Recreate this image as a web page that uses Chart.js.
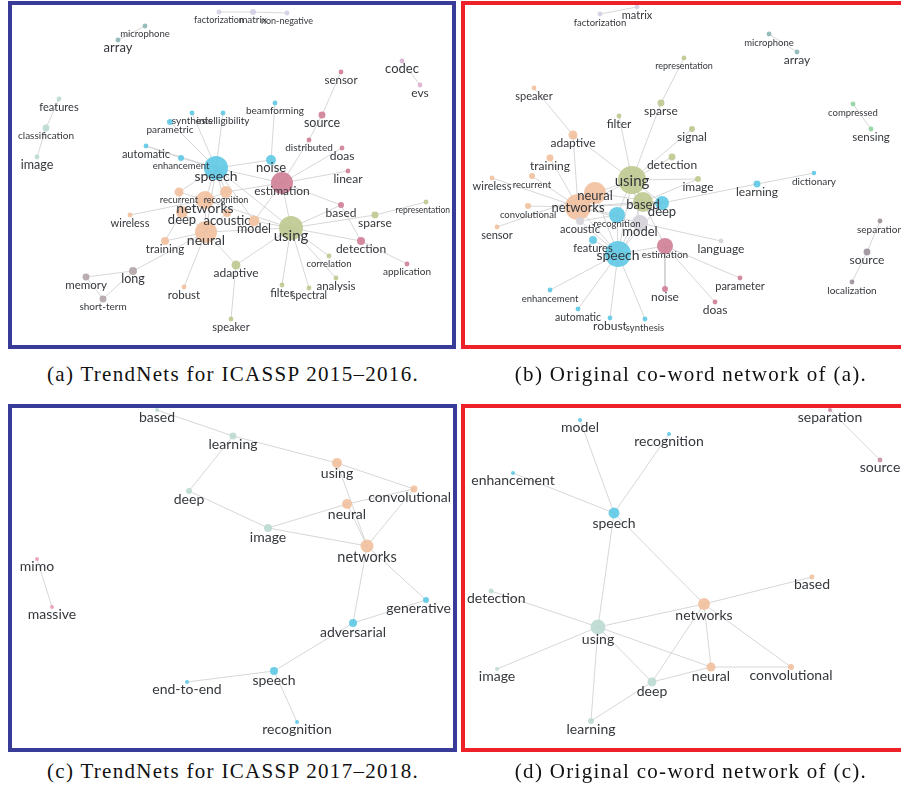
<!DOCTYPE html>
<html>
<head>
<meta charset="utf-8">
<script src="https://cdn.jsdelivr.net/npm/chart.js@4.4.1/dist/chart.umd.min.js"></script>
<style>
  body { margin: 0; width: 901px; height: 791px; overflow: hidden; background: #fff; position: relative; }
  .panel { position: absolute; }
  .panel canvas { position: absolute; left: 0; top: 0; }
  .frame { position: absolute; left: 0; top: 0; right: 0; bottom: 0; border: 4px solid; box-sizing: border-box; }
  .blue { border-color: #383c98; }
  .red { border-color: #ec2228; }
  .cap { position: absolute; width: 450px; text-align: center; font-family: 'Liberation Serif', serif; font-size: 21px; letter-spacing: 1.3px; color: #111; white-space: nowrap; }
</style>
</head>
<body>
<div class="panel" style="left:8px;top:1px;width:448px;height:348px"><canvas id="chartA" width="448" height="348"></canvas><div class="frame blue"></div></div>
<div class="panel" style="left:461px;top:1px;width:450px;height:348px"><canvas id="chartB" width="450" height="348"></canvas><div class="frame red"></div></div>
<div class="panel" style="left:8px;top:404px;width:449px;height:348px"><canvas id="chartC" width="449" height="348"></canvas><div class="frame blue"></div></div>
<div class="panel" style="left:461px;top:404px;width:450px;height:348px"><canvas id="chartD" width="450" height="348"></canvas><div class="frame red"></div></div>
<div class="cap" style="left:8px;top:362px">(a) TrendNets for ICASSP 2015–2016.</div>
<div class="cap" style="left:466px;top:362px">(b) Original co-word network of (a).</div>
<div class="cap" style="left:8px;top:759px">(c) TrendNets for ICASSP 2017–2018.</div>
<div class="cap" style="left:466px;top:759px">(d) Original co-word network of (c).</div>

<script>
// (a) TrendNets for ICASSP 2015-2016 -- layout coords, word frequency, community
const aWords = ['factorization','matrix','non-negative','microphone','array','codec','evs','features','classification','image',
  'sensor','source','distributed','doas','linear','estimation','based','detection','application',
  'synthesis','intelligibility','parametric','automatic','enhancement','speech','beamforming','noise',
  'sparse','representation','using','model','correlation','analysis','filter','spectral','adaptive','speaker',
  'recurrent','recognition','networks','deep','acoustic','neural','wireless','training','robust','long','memory','short-term'];
const aX = [211,245,279,137,110,394,412,51,38,29, 333,314,301,334,340,274,333,353,399, 184,215,162,138,173,208,267,263, 367,418,283,246,321,328,274,301,228,223, 171,218,197,174,219,198,122,157,176,125,78,95];
const aY = [11,11,12,25,39,60,84,98,127,156, 71,114,139,147,170,182,204,240,263, 112,112,121,145,157,167,102,159, 214,201,227,220,255,277,284,287,264,318, 191,191,199,211,212,231,214,240,286,270,276,298];
const aFreq = [6,9,6,6,6,6,6,6,12,6, 6,12,6,6,6,121,9,16,6, 6,6,9,6,9,144,6,25, 12,6,144,30,6,6,6,6,20,6, 20,36,81,36,16,121,6,16,6,16,12,12];
const aGroup = ['lav','lav','lav','teal','teal','lilac','lilac','sage','sage','sage',
  'rose','rose','rose','rose','rose','rose','rose','rose','rose',
  'cyan','cyan','cyan','cyan','cyan','cyan','cyan','cyan',
  'olive','olive','olive','peach','olive','olive','olive','olive','olive','olive',
  'peach','peach','peach','peach','peach','peach','peach','peach','peach','mauve','mauve','mauve'];
const aLinks = [['microphone','array'],['factorization','matrix'],['matrix','non-negative'],['codec','evs'],
  ['features','classification'],['classification','image'],
  ['sensor','source'],['source','distributed'],['distributed','estimation'],['doas','estimation'],['linear','estimation'],
  ['estimation','based'],['based','detection'],['detection','application'],['estimation','noise'],['noise','beamforming'],
  ['noise','speech'],['estimation','speech'],['estimation','using'],['estimation','model'],['estimation','recognition'],
  ['speech','synthesis'],['speech','intelligibility'],['speech','parametric'],['speech','automatic'],['speech','enhancement'],
  ['automatic','enhancement'],['speech','networks'],['speech','recurrent'],['speech','recognition'],['speech','neural'],
  ['speech','acoustic'],['speech','model'],['speech','using'],
  ['using','sparse'],['sparse','representation'],['using','detection'],['using','correlation'],['using','analysis'],
  ['using','filter'],['using','spectral'],['using','adaptive'],['using','model'],['using','neural'],['using','networks'],['using','based'],
  ['adaptive','speaker'],['adaptive','neural'],
  ['neural','networks'],['neural','deep'],['neural','training'],['neural','robust'],['neural','acoustic'],['neural','long'],
  ['networks','recurrent'],['networks','deep'],['networks','wireless'],['deep','training'],['networks','recognition'],['recurrent','deep'],
  ['long','memory'],['long','short-term'],['memory','short-term']];

// (b) original co-word network of (a)
const bWords = ['factorization','matrix','microphone','array','representation','speaker','sparse','compressed','sensing','filter',
  'signal','adaptive','training','detection','using','image','learning','dictionary','wireless','recurrent',
  'neural','networks','convolutional','sensor','based','deep','recognition','acoustic','model','features',
  'speech','estimation','language','parameter','doas','noise','enhancement','automatic','robust','synthesis',
  'separation','source','localization'];
const bX = [139,176,308,336,223,73,200,392,410,158, 231,112,89,211,171,237,296,353,31,71, 134,117,67,36,182,201,156,119,179,132, 157,204,260,279,254,204,89,117,149,184, 419,406,391];
const bY = [13,6,33,51,57,87,102,103,128,115, 128,134,157,156,179,178,183,172,177,175, 192,206,205,226,201,202,214,220,222,239, 253,245,240,277,301,288,289,308,317,318, 220,251,281];
const bFreq = [6,6,6,6,6,6,12,6,6,6, 9,20,12,12,196,9,12,5,6,9, 121,169,9,6,100,49,64,16,64,16, 169,64,6,6,6,9,6,6,6,6, 6,12,6];
const bGroup = ['lav','lav','teal','teal','olive','peach','olive','green','green','olive',
  'olive','peach','peach','olive','olive','olive','cyan','cyan','peach','peach',
  'peach','peach','peach','peach','olive','cyan','cyan','lgray','lgray','cyan',
  'cyan','rose','lgray','rose','rose','rose','cyan','cyan','cyan','cyan',
  'gray','gray','gray'];
const bLinks = [['factorization','matrix'],['microphone','array'],['compressed','sensing'],['separation','source'],['source','localization'],
  ['speaker','adaptive'],['adaptive','using'],['adaptive','networks'],['training','networks'],['filter','using'],
  ['sparse','representation'],['sparse','using'],['signal','using'],['detection','using'],['image','using'],['image','based'],
  ['learning','dictionary'],['learning','deep'],['wireless','networks'],['recurrent','networks'],['convolutional','networks'],
  ['sensor','neural'],['neural','networks'],['networks','using'],['networks','based'],['networks','deep'],['networks','recognition'],
  ['networks','speech'],['neural','using'],['neural','speech'],['neural','deep'],['acoustic','speech'],['acoustic','recognition'],
  ['recognition','speech'],['model','speech'],['features','speech'],['deep','speech'],['based','speech'],['using','speech'],
  ['estimation','speech'],['estimation','noise'],['estimation','parameter'],['estimation','doas'],['model','language'],
  ['speech','enhancement'],['speech','automatic'],['speech','robust'],['speech','synthesis'],['using','model'],['using','based'],
  ['using','deep'],['using','recognition'],['based','deep'],['networks','acoustic'],['networks','model'],['using','estimation']];

// (c) TrendNets for ICASSP 2017-2018
const cWords = ['based','learning','using','convolutional','deep','neural','image','networks','mimo','massive',
  'generative','adversarial','speech','end-to-end','recognition'];
const cX = [149,225,329,406,181,339,260,359,29,44,418,345,266,179,289];
const cY = [6,32,59,85,87,100,124,142,155,203,196,219,267,278,318];
const cFreq = [4,12,25,12,9,25,16,42,4,4,9,16,16,4,4];
const cGroup = ['sage','sage','peach','peach','sage','peach','sage','peach','pink','pink','cyan','cyan','cyan','cyan','cyan'];
const cLinks = [['based','learning'],['learning','using'],['learning','deep'],['deep','image'],['image','neural'],['image','networks'],
  ['using','convolutional'],['using','networks'],['neural','networks'],['neural','convolutional'],['convolutional','networks'],
  ['networks','generative'],['networks','adversarial'],['adversarial','generative'],['adversarial','speech'],
  ['speech','end-to-end'],['speech','recognition'],['mimo','massive']];

// (d) original co-word network of (c)
const dWords = ['model','recognition','enhancement','speech','separation','source','based','detection','networks','using',
  'image','neural','convolutional','deep','learning'];
const dX = [119,208,52,153,369,419,351,30,243,137,36,250,330,191,130];
const dY = [16,30,69,109,6,56,173,187,200,223,265,263,263,278,317];
const dFreq = [4,4,4,30,4,6,6,6,36,56,4,20,9,20,9];
const dGroup = ['cyan','cyan','cyan','cyan','mauve2','mauve2','peach','sage','peach','sage','sage','peach','peach','sage','sage'];
const dLinks = [['model','speech'],['recognition','speech'],['enhancement','speech'],['speech','using'],['speech','networks'],
  ['separation','source'],['networks','based'],['networks','using'],['networks','deep'],['networks','neural'],['networks','convolutional'],
  ['using','detection'],['using','image'],['using','neural'],['using','deep'],['using','learning'],['deep','learning'],
  ['deep','neural'],['neural','convolutional']];

// label styles (px)
const aFont = [9,10,9,9.5,13,13,12,11,10,12.5, 11.5,12.5,10,12,12,12,12,12,10, 10,10,10,11,9.5,14,10,13, 12,8.5,15,12.5,9.5,11.5,11.5,10.5,12,11, 9.5,9,14,13,13,14,11,11.5,11.5,12.5,11.5,10];
const bFont = [9.5,11,9.5,12,9,11,12,9.5,11.5,12, 12,12,12,12,15,12,12,10,11,9.5, 13,13,9.5,11,13,13,9.5,11,13,11, 14,10,12,11,12,12,9.5,10.5,12,9.5, 10,12,10];

const palette = {
  cyan: '#5ec9e4', rose: '#cf7d95', olive: '#bec98f', peach: '#f1c09d', mauve: '#b2a5a9', teal: '#8cb5b5',
  lav: '#d4cfe6', lilac: '#dab1d1', sage: '#bcdad1', green: '#8ed3a0', gray: '#9b909a', lgray: '#d5d3d9',
  pink: '#eb9db1', mauve2: '#c58fa6'
};

function wordLabels(words, fonts, lift) {
  return {
    id: 'wordLabels',
    afterDatasetsDraw(chart) {
      const ctx = chart.ctx;
      const meta = chart.getDatasetMeta(0);
      ctx.save();
      ctx.fillStyle = '#34373c';
      ctx.textAlign = 'center';
      ctx.textBaseline = 'middle';
      meta.data.forEach((pt, i) => {
        const r = pt.options.radius;
        ctx.font = fonts[i] + 'px Lato, "Noto Sans", sans-serif';
        // keep the word inside the frame
        const half = ctx.measureText(words[i]).width / 2;
        const x = Math.min(Math.max(pt.x, half + 6), chart.width - half - 6);
        ctx.fillText(words[i], x, pt.y + lift(r, fonts[i]));
      });
      ctx.restore();
    }
  };
}

function drawNetwork(id, w, h, words, xs, ys, freq, groups, links, fonts, lift) {
  const nodes = {
    data: words.map((word, i) => ({ x: xs[i], y: ys[i] })),
    pointRadius: freq.map(f => Math.sqrt(f)),
    backgroundColor: groups.map(g => palette[g] + 'e6'),
    borderWidth: 0,
    order: 0
  };
  const edges = links.map(([s, t]) => {
    const i = words.indexOf(s), j = words.indexOf(t);
    return {
      data: [{ x: xs[i], y: ys[i] }, { x: xs[j], y: ys[j] }],
      showLine: true,
      pointRadius: 0,
      borderColor: '#cdcdcd',
      borderWidth: 0.8,
      order: 1
    };
  });
  new Chart(document.getElementById(id), {
    type: 'scatter',
    data: { datasets: [nodes, ...edges] },
    options: {
      responsive: false,
      animation: false,
      events: [],
      layout: { padding: 0, autoPadding: false },
      plugins: { legend: { display: false }, tooltip: { enabled: false } },
      scales: {
        x: { type: 'linear', min: 0, max: w, display: false },
        y: { type: 'linear', min: 0, max: h, reverse: true, display: false }
      }
    },
    plugins: [wordLabels(words, fonts, lift)]
  });
}

drawNetwork('chartA', 448, 348, aWords, aX, aY, aFreq, aGroup, aLinks, aFont, () => 8);
drawNetwork('chartB', 450, 348, bWords, bX, bY, bFreq, bGroup, bLinks, bFont, r => r >= 10 ? Math.max(1, 9.5 - 0.65 * r) : 8.5);
drawNetwork('chartC', 449, 348, cWords, cX, cY, cFreq, cGroup, cLinks, cWords.map(w => w === 'networks' ? 14.5 : 14), r => r + 5);
drawNetwork('chartD', 450, 348, dWords, dX, dY, dFreq, dGroup, dLinks, dWords.map(() => 14), r => r + 5);
</script>
</body>
</html>
